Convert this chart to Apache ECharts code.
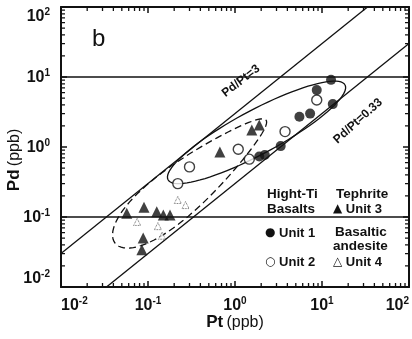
<!DOCTYPE html>
<html lang="en">
<head>
    <meta charset="UTF-8">
    <title>Pd vs Pt</title>
    <script src="https://cdn.jsdelivr.net/npm/echarts@6/dist/echarts.min.js"></script>
</head>
<body style="margin:0">
    <div id="main" style="width:412px;height:339px"></div>
    <script>
        // values (Pt, Pd in ppb)
        var unit1 = [[12.7, 9.1], [8.7, 6.5], [13.3, 4.1], [5.5, 2.7], [7.3, 3.0], [3.35, 1.03], [2.2, 0.77], [1.9, 0.73]];
        var unit2 = [[8.7, 4.7], [3.76, 1.66], [1.09, 0.93], [1.46, 0.67], [0.30, 0.52], [0.22, 0.30]];
        var unit3 = [[0.67, 0.85], [1.56, 1.75], [1.9, 2.06], [0.057, 0.113], [0.090, 0.138], [0.126, 0.119],
                     [0.15, 0.107], [0.179, 0.107], [0.088, 0.050], [0.085, 0.034]];
        var unit4 = [[0.22, 0.175], [0.27, 0.148], [0.13, 0.074], [0.145, 0.054], [0.075, 0.085]];
        var levelLines = [10, 0.1];
        var ratioLines = [3, 0.3];
        var ratioLabels = ['Pd/Pt=3', 'Pd/Pt=0.33'];
        var basaltField = [[0.17, 0.34], [18.4, 7.7]];
        var tephriteField = [[0.042, 0.042], [2.27, 2.43]];
        var axisMin = 0.01, axisMax = 100;

        var ink = '#111';
        var font = 'Liberation Sans, Arial, DejaVu Sans, sans-serif';
        var numFont = 'Liberation Sans Narrow, Liberation Sans, Arial, sans-serif';

        var mychart = echarts.init(document.getElementById('main'));

        function powLabel(v) {
            var e = Math.round(Math.log10(v));
            return '{b|10}{s|' + e + '}';
        }
        var powRich = {
            b: { fontSize: 16, fontWeight: 'bold', fontFamily: numFont, color: ink, verticalAlign: 'bottom' },
            s: { fontSize: 10, fontWeight: 'bold', fontFamily: numFont, color: ink, verticalAlign: 'bottom', padding: [0, 0, 8, 0] }
        };

        // minor ticks at 2..9 of every decade
        var minorVals = [];
        for (var d = -2; d < 2; d++) {
            for (var k = 2; k <= 9; k++) minorVals.push(k * Math.pow(10, d));
        }

        function axisBase(pos, showLabel) {
            return {
                type: 'log', logBase: 10, min: axisMin, max: axisMax, position: pos,
                axisLine: { onZero: false, lineStyle: { color: ink, width: 2 } },
                axisTick: { inside: true, length: 6, lineStyle: { color: ink, width: 1.5 } },
                splitLine: { show: false },
                axisLabel: showLabel ? { formatter: powLabel, rich: powRich } : { show: false }
            };
        }

        var xMain = axisBase('bottom', true);
        xMain.axisLabel.margin = 9;
        xMain.axisLabel.alignMinLabel = 'left';
        xMain.axisLabel.alignMaxLabel = 'right';
        xMain.name = '{a|Pt} {c|(ppb)}';
        xMain.nameLocation = 'middle';
        xMain.nameGap = 27;
        xMain.nameMoveOverlap = false;
        xMain.nameTextStyle = { rich: {
            a: { fontSize: 17, fontWeight: 'bold', fontFamily: font, color: ink },
            c: { fontSize: 16, fontFamily: font, color: ink }
        } };

        var yMain = axisBase('left', true);
        yMain.axisLabel.margin = 11;
        yMain.axisLabel.verticalAlignMaxLabel = 'top';
        yMain.axisLabel.verticalAlignMinLabel = 'bottom';
        yMain.name = '{a|Pd} {c|(ppb)}';
        yMain.nameLocation = 'middle';
        yMain.nameGap = 38;
        yMain.nameMoveOverlap = false;
        yMain.nameTextStyle = { padding: [0, 26, 0, 0], rich: {
            a: { fontSize: 17, fontWeight: 'bold', fontFamily: font, color: ink },
            c: { fontSize: 16, fontFamily: font, color: ink }
        } };

        // minor ticks on all four sides, drawn as one path
        var minorTicks = {
            type: 'custom', silent: true, z: 5, clip: false,
            data: [[axisMin, axisMin]],
            renderItem: function (params, api) {
                var len = 4, p = '';
                minorVals.forEach(function (v) {
                    var a = api.coord([v, axisMin]), b = api.coord([v, axisMax]);
                    p += 'M' + a[0] + ' ' + a[1] + 'L' + a[0] + ' ' + (a[1] - len);
                    p += 'M' + b[0] + ' ' + b[1] + 'L' + b[0] + ' ' + (b[1] + len);
                    a = api.coord([axisMin, v]); b = api.coord([axisMax, v]);
                    p += 'M' + a[0] + ' ' + a[1] + 'L' + (a[0] + len) + ' ' + a[1];
                    p += 'M' + b[0] + ' ' + b[1] + 'L' + (b[0] - len) + ' ' + b[1];
                });
                return { type: 'path', shape: { pathData: p },
                    style: { fill: null, stroke: ink, lineWidth: 1.3 } };
            }
        };

        // outline between two end points (data units); half width in px, egg > 0 widens the first end
        function fieldSeries(ends, half, egg, dashed) {
            return {
                type: 'custom', silent: true, z: 2,
                data: [ends[0]],
                renderItem: function (params, api) {
                    var a = api.coord(ends[0]), b = api.coord(ends[1]);
                    var cx = (a[0] + b[0]) / 2, cy = (a[1] + b[1]) / 2;
                    var dx = (b[0] - a[0]) / 2, dy = (b[1] - a[1]) / 2;
                    var len = Math.sqrt(dx * dx + dy * dy);
                    var ux = -dy / len, uy = dx / len;
                    var pts = [];
                    for (var i = 0; i <= 90; i++) {
                        var t = i / 90 * 2 * Math.PI;
                        var w = half * (1 - egg * Math.cos(t)) * Math.sin(t);
                        pts.push([cx + dx * Math.cos(t) + ux * w, cy + dy * Math.cos(t) + uy * w]);
                    }
                    return { type: 'polyline', shape: { points: pts },
                        style: { fill: null, stroke: ink, lineWidth: 1.3, lineDash: dashed ? [7, 4] : null } };
                }
            };
        }

        var series = [];
        levelLines.forEach(function (v) {
            series.push({ type: 'line', data: [[axisMin, v], [axisMax, v]], symbol: 'none', silent: true,
                lineStyle: { color: ink, width: 1.3 } });
        });
        ratioLines.forEach(function (r) {
            series.push({ type: 'line', data: [[axisMin, axisMin * r], [axisMax, axisMax * r]], symbol: 'none', silent: true,
                lineStyle: { color: ink, width: 1.3 } });
        });
        series.push(fieldSeries(basaltField, 22, 0, false));
        series.push(fieldSeries(tephriteField, 24, 0.35, true));
        series.push({ type: 'scatter', data: unit4, symbol: 'triangle', symbolSize: 7, z: 3,
            itemStyle: { color: '#fff', borderColor: ink, borderWidth: 0.8, borderType: 'dotted' } });
        series.push({ type: 'scatter', data: unit3, symbol: 'triangle', symbolSize: 11, z: 3,
            itemStyle: { color: ink } });
        series.push({ type: 'scatter', data: unit2, symbol: 'circle', symbolSize: 10, z: 3,
            itemStyle: { color: '#fff', borderColor: ink, borderWidth: 1.4 } });
        series.push({ type: 'scatter', data: unit1, symbol: 'circle', symbolSize: 10, z: 3,
            itemStyle: { color: ink } });
        series.push(minorTicks);

        var legendRich = {
            m: { fontSize: 12, fontFamily: 'DejaVu Sans, sans-serif', color: ink },
            t: { fontSize: 13, fontWeight: 'bold', fontFamily: font, color: ink }
        };
        function txt(x, y, text, size, opt) {
            opt = opt || {};
            return {
                type: 'text', x: x, y: y, rotation: (opt.rot || 0) * Math.PI / 180, z: 10,
                style: { text: text, fontSize: size, fontFamily: font, fontWeight: opt.weight || 'bold',
                    fill: ink, align: opt.align || 'left', verticalAlign: 'middle', rich: legendRich }
            };
        }

        option = {
            animation: false,
            backgroundColor: '#fff',
            grid: { left: 61, right: 3, top: 7, bottom: 52, containLabel: false, outerBoundsMode: 'none' },
            xAxis: [xMain, axisBase('top', false)],
            yAxis: [yMain, axisBase('right', false)],
            series: series,
            graphic: [
                txt(92, 39, 'b', 24, { weight: 'normal' }),
                txt(241, 81, ratioLabels[0], 12, { rot: 38, align: 'center' }),
                txt(358, 121, ratioLabels[1], 12, { rot: 42, align: 'center' }),
                txt(267, 194, 'Hight-Ti', 13.5),
                txt(336, 194, 'Tephrite', 13.5),
                txt(267, 209, 'Basalts', 13.5),
                txt(333, 209, '{m|\u25B2}{t| Unit 3}', 13),
                txt(265, 233, '{m|\u25CF}{t| Unit 1}', 13),
                txt(335, 232, 'Basaltic', 13.5),
                txt(333, 246, 'andesite', 13.5),
                txt(265, 262, '{m|\u25CB}{t| Unit 2}', 13),
                txt(333, 262, '{m|\u25B3}{t| Unit 4}', 13)
            ]
        };

        mychart.setOption(option);
    </script>
</body>
</html>
